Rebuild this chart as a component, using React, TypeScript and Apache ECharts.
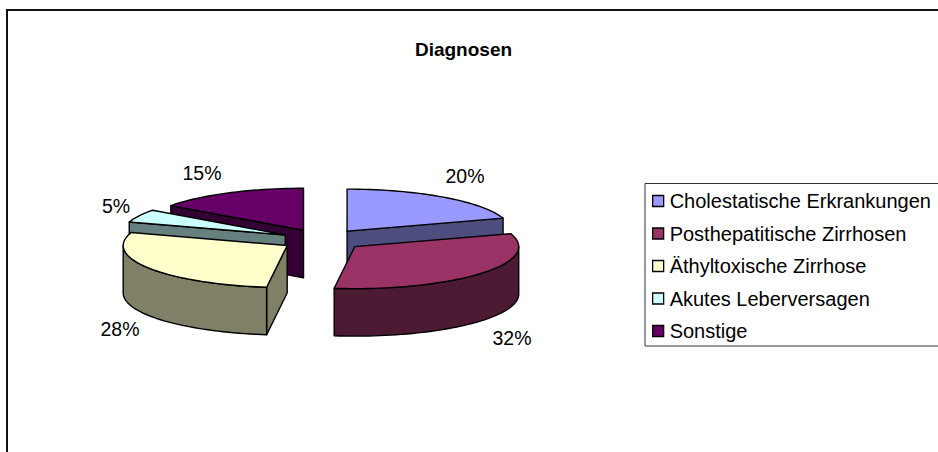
import React, { useEffect, useRef } from "react";
import * as echarts from "echarts";

const categories = [
  "Cholestatische Erkrankungen",
  "Posthepatitische Zirrhosen",
  "Äthyltoxische Zirrhose",
  "Akutes Leberversagen",
  "Sonstige",
];
const values = [20, 32, 28, 5, 15];
const topColors = ["#9999FF", "#993366", "#FFFFCC", "#CCFFFF", "#660066"];
const sideColors = ["#4D4D80", "#4D1A33", "#808066", "#668080", "#330033"];
const labelAnchors = [
  [465, 176],
  [512, 338],
  [120, 329],
  [116, 206],
  [202, 173],
];

const FONT = '"Liberation Sans", Arial, sans-serif';
const CX = 322.5;
const CY = 239.8;
const RX = 164;
const RY = 42;
const DEPTH = 47.5;
const EXPLODE = 0.255;

const total = values.reduce((a, b) => a + b, 0);
const rad = (d: number) => (d * Math.PI) / 180;

function arcPoints(cx: number, cy: number, a: number, b: number) {
  const pts: number[][] = [];
  const n = Math.max(2, Math.ceil(Math.abs(b - a) / 2));
  for (let i = 0; i <= n; i++) {
    const t = rad(a + ((b - a) * i) / n);
    pts.push([cx + RX * Math.sin(t), cy - RY * Math.cos(t)]);
  }
  return pts;
}

function makeRenderItem(idx: number) {
  const before = values.slice(0, idx).reduce((s, v) => s + v, 0);
  const a = (before / total) * 360;
  const b = ((before + values[idx]) / total) * 360;
  const mid = (a + b) / 2;
  const cx = CX + EXPLODE * RX * Math.sin(rad(mid));
  const cy = CY - EXPLODE * RY * Math.cos(rad(mid));
  const base = Math.round((-Math.cos(rad(mid)) + 1) * 100) * 10;
  const stroke = { stroke: "#000", lineWidth: 1.4, lineJoin: "round" };

  return () => {
    const children: any[] = [];
    const side = (points: number[][], z: number) =>
      children.push({
        type: "polygon",
        z2: base + z,
        shape: { points },
        style: { fill: sideColors[idx], ...stroke },
      });
    const radial = (t: number) => {
      const ex = cx + RX * Math.sin(rad(t));
      const ey = cy - RY * Math.cos(rad(t));
      side(
        [
          [cx, cy],
          [ex, ey],
          [ex, ey + DEPTH],
          [cx, cy + DEPTH],
        ],
        1
      );
    };
    if (Math.sin(rad(a)) < -1e-6) radial(a);
    if (Math.sin(rad(b)) > 1e-6) radial(b);
    const f0 = Math.max(a, 90);
    const f1 = Math.min(b, 270);
    if (f1 > f0) {
      const up = arcPoints(cx, cy, f0, f1);
      const down = up.map(([x, y]) => [x, y + DEPTH]).reverse();
      side([...up, ...down], 2);
    }
    children.push({
      type: "polygon",
      z2: base + 3,
      shape: { points: [[cx, cy], ...arcPoints(cx, cy, a, b)] },
      style: { fill: topColors[idx], ...stroke },
    });
    children.push({
      type: "text",
      z2: 5000,
      style: {
        text: `${values[idx]}%`,
        x: labelAnchors[idx][0],
        y: labelAnchors[idx][1],
        align: "center",
        verticalAlign: "middle",
        font: `19.5px ${FONT}`,
        fill: "#000",
      },
    });
    return { type: "group", children };
  };
}

export default function App() {
  const ref = useRef<HTMLDivElement>(null);
  useEffect(() => {
    document.body.style.margin = "0";
    document.body.style.overflow = "hidden";
    const chart = echarts.init(ref.current!, undefined, { renderer: "svg" });
    chart.setOption({
      animation: false,
      backgroundColor: "#fff",
      title: {
        text: "Diagnosen",
        left: 458.5,
        top: 35,
        textAlign: "center",
        textStyle: { fontFamily: FONT, fontSize: 19, fontWeight: "bold", color: "#000" },
      },
      legend: {
        orient: "vertical",
        left: 645,
        top: 183.5,
        padding: [7.5, 30, 5, 7],
        itemWidth: 11,
        itemHeight: 11,
        itemGap: 12.5,
        icon: "rect",
        borderColor: "#333",
        borderWidth: 1,
        selectedMode: false,
        textStyle: { fontFamily: FONT, fontSize: 20, color: "#000", padding: [0, 0, 0, 1] },
        data: categories.map((name, i) => ({
          name,
          icon: "rect",
          itemStyle: { color: topColors[i], borderColor: "#000", borderWidth: 1.3 },
        })),
      },
      graphic: [
        {
          type: "rect",
          shape: { x: 7, y: 10, width: 1200, height: 1200 },
          style: { fill: "none", stroke: "#111", lineWidth: 2 },
          silent: true,
          z: -1,
        },
      ],
      series: categories.map((name, i) => ({
        type: "custom",
        name,
        coordinateSystem: "none",
        silent: true,
        itemStyle: { color: topColors[i] },
        data: [[values[i]]],
        renderItem: makeRenderItem(i),
      })),
    });
    return () => chart.dispose();
  }, []);
  return <div ref={ref} style={{ position: "absolute", left: 0, top: 0, width: 938, height: 452 }} />;
}
